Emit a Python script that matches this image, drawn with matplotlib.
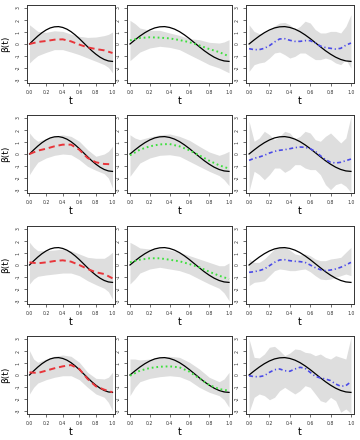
import matplotlib
matplotlib.use("Agg")
from matplotlib import pyplot as plt

t_true = [0, 0.05, 0.1, 0.15, 0.2, 0.25, 0.3, 0.35, 0.4, 0.45, 0.5,
          0.55, 0.6, 0.65, 0.7, 0.75, 0.8, 0.85, 0.9, 0.95, 1.0]
t_est = [0, 0.1, 0.2, 0.3, 0.4, 0.5, 0.6, 0.7, 0.8, 0.9, 1.0]
t_band = [0, 0.05, 0.1, 0.2, 0.3, 0.4, 0.5, 0.6, 0.7, 0.8, 0.9, 0.95, 1.0]
t_fine = t_true

# true coefficient function (same in every panel)
beta_true = [0, 0.34, 0.66, 0.94, 1.17, 1.34, 1.43, 1.45, 1.38, 1.24, 1.03,
             0.76, 0.45, 0.11, -0.23, -0.56, -0.85, -1.10, -1.29, -1.41, -1.45]

# column 1 (red dashed)
est_r1c1 = [0, 0.17, 0.25, 0.36, 0.39, 0.22, -0.05, -0.28, -0.42, -0.53, -0.75]
lo_r1c1 = [-1.58, -1.25, -0.97, -0.7, -0.47, -0.47, -0.67, -0.89, -1.17, -1.44, -1.72, -1.95, -2.4]
hi_r1c1 = [1.6, 1.33, 1.05, 0.97, 1.1, 1.05, 0.83, 0.64, 0.55, 0.58, 0.7, 0.8, 1.0]

est_r2c1 = [0, 0.28, 0.44, 0.64, 0.78, 0.78, 0.36, -0.33, -0.69, -0.83, -0.86]
lo_r2c1 = [-1.72, -1.17, -0.69, -0.33, -0.11, 0, -0.06, -0.47, -1.03, -1.36, -1.64, -2.0, -2.83]
hi_r2c1 = [1.75, 1.33, 1.06, 1.28, 1.47, 1.6, 1.47, 1.06, 0.36, -0.19, 0, 0.22, 0.64]

est_r3c1 = [0.22, 0.14, 0.22, 0.33, 0.39, 0.28, 0, -0.33, -0.61, -0.75, -1.11]
lo_r3c1 = [-1.58, -1.17, -0.94, -0.83, -0.75, -0.67, -0.67, -0.89, -1.31, -1.64, -1.94, -2.22, -2.83]
hi_r3c1 = [1.89, 1.47, 1.19, 1.19, 1.25, 1.33, 1.19, 0.92, 0.64, 0.56, 0.56, 0.78, 1.06]

est_r4c1 = [0.22, 0.17, 0.36, 0.56, 0.72, 0.83, 0.5, -0.33, -0.94, -1.22, -1.44]
lo_r4c1 = [-1.58, -1.03, -0.67, -0.39, -0.19, -0.06, -0.06, -0.39, -1.03, -1.58, -1.86, -2.28, -2.97]
hi_r4c1 = [2.03, 1.33, 1.06, 1.33, 1.56, 1.67, 1.56, 1.06, 0.22, -0.28, -0.33, -0.19, 0.22]

# column 2 (green dotted)
est_r1c2 = [0.3, 0.5, 0.56, 0.53, 0.47, 0.33, 0.15, -0.12, -0.42, -0.67, -1.03]
lo_r1c2 = [-1.39, -1.03, -0.67, -0.33, -0.19, -0.28, -0.47, -0.89, -1.3, -1.72, -2.0, -2.2, -2.4]
hi_r1c2 = [1.97, 1.7, 1.33, 1.14, 1.14, 0.92, 0.72, 0.44, 0.36, 0.14, 0.08, 0.17, 0.36]

est_r2c2 = [-0.11, 0.36, 0.64, 0.8, 0.83, 0.64, 0.31, -0.11, -0.56, -0.94, -1.22]
lo_r2c2 = [-1.86, -1.3, -0.75, -0.33, -0.11, -0.06, -0.19, -0.61, -1.03, -1.44, -1.8, -2.14, -2.64]
hi_r2c2 = [1.6, 1.33, 1.19, 1.42, 1.6, 1.67, 1.47, 1.14, 0.64, 0.17, -0.11, 0.03, 0.22]

est_r3c2 = [0.22, 0.44, 0.56, 0.56, 0.44, 0.31, 0.08, -0.19, -0.56, -0.89, -1.17]
lo_r3c2 = [-1.58, -1.17, -0.67, -0.33, -0.19, -0.33, -0.47, -0.75, -1.17, -1.58, -1.94, -2.33, -2.97]
hi_r3c2 = [1.89, 1.67, 1.42, 1.33, 1.33, 1.25, 1.06, 0.78, 0.5, 0.22, -0.06, -0.06, 0.17]

est_r4c2 = [-0.06, 0.36, 0.58, 0.69, 0.72, 0.64, 0.28, -0.28, -0.83, -1.17, -1.31]
lo_r4c2 = [-1.72, -1.03, -0.56, -0.28, -0.14, -0.06, -0.14, -0.47, -1.03, -1.44, -1.72, -2.06, -2.69]
hi_r4c2 = [1.33, 1.33, 1.25, 1.33, 1.47, 1.56, 1.47, 1.06, 0.5, -0.19, -0.56, -0.33, 0.22]

# column 3 (blue dash-dot), finer grid
est_r1c3 = [-0.39, -0.47, -0.47, -0.36, -0.14, 0.17, 0.42, 0.44, 0.31, 0.22, 0.22,
            0.28, 0.28, 0.08, -0.17, -0.3, -0.36, -0.42, -0.36, -0.1, 0.08]
lo_r1c3 = [-2.28, -1.72, -1.58, -1.5, -1.17, -0.75, -0.67, -0.89, -1.17, -1.03, -0.75,
           -0.75, -1.03, -1.3, -1.3, -1.17, -1.3, -1.58, -1.72, -1.3, -2.0]
hi_r1c3 = [1.6, 1.05, 0.86, 0.95, 1.14, 1.5, 1.75, 1.8, 1.6, 1.2, 1.47,
           1.9, 1.75, 1.2, 0.92, 0.92, 1.05, 1.05, 0.92, 1.47, 2.44]

est_r2c3 = [-0.53, -0.36, -0.25, -0.11, 0.08, 0.22, 0.31, 0.36, 0.44, 0.53, 0.58,
            0.56, 0.44, 0.22, -0.14, -0.47, -0.69, -0.75, -0.69, -0.56, -0.42]
lo_r2c3 = [-3.1, -1.44, -1.72, -2.14, -1.72, -1.17, -1.17, -1.53, -1.3, -0.89, -0.89,
           -1.17, -1.3, -1.3, -1.72, -2.55, -2.97, -2.55, -2.42, -2.69, -3.2]
hi_r2c3 = [2.72, 1.06, 1.33, 1.89, 1.61, 1.19, 1.47, 1.89, 1.75, 1.25, 1.47,
           1.89, 1.75, 1.19, 1.06, 1.47, 1.75, 1.33, 0.92, 1.33, 3.14]

est_r3c3 = [-0.61, -0.56, -0.47, -0.33, -0.06, 0.22, 0.42, 0.44, 0.36, 0.31, 0.28,
            0.22, 0, -0.22, -0.39, -0.47, -0.42, -0.33, -0.19, 0, 0.22]
lo_r3c3 = [-1.72, -1.44, -1.39, -1.31, -0.89, -0.47, -0.33, -0.39, -0.47, -0.47, -0.39,
           -0.33, -0.56, -0.89, -1.17, -1.22, -1.17, -1.03, -0.89, -0.75, -0.89]
hi_r3c3 = [0.5, 0.22, 0.22, 0.5, 0.92, 1.33, 1.47, 1.47, 1.25, 0.92, 0.83,
           0.92, 0.78, 0.5, 0.36, 0.36, 0.5, 0.56, 0.64, 1.06, 1.47]

est_r4c3 = [-0.06, -0.14, -0.14, -0.06, 0.22, 0.44, 0.5, 0.36, 0.31, 0.5, 0.64,
            0.56, 0.22, -0.11, -0.25, -0.33, -0.47, -0.75, -0.94, -0.89, -0.56]
lo_r4c3 = [-3.1, -1.86, -1.58, -1.72, -2.06, -1.86, -1.31, -1.03, -1.31, -1.58, -1.31,
           -0.89, -1.03, -1.58, -2.14, -2.28, -1.86, -2.14, -3.1, -2.83, -3.2]
hi_r4c3 = [3.0, 1.47, 1.42, 1.75, 2.31, 2.39, 2.03, 1.61, 1.83, 2.17, 2.11,
           1.89, 1.83, 1.61, 1.75, 1.47, 1.33, 1.61, 1.47, 1.33, 3.14]

x_ticks = [0.0, 0.2, 0.4, 0.6, 0.8, 1.0]
y_ticks = [-3, -2, -1, 0, 1, 2, 3]

panels = [
    [(est_r1c1, lo_r1c1, hi_r1c1), (est_r1c2, lo_r1c2, hi_r1c2), (est_r1c3, lo_r1c3, hi_r1c3)],
    [(est_r2c1, lo_r2c1, hi_r2c1), (est_r2c2, lo_r2c2, hi_r2c2), (est_r2c3, lo_r2c3, hi_r2c3)],
    [(est_r3c1, lo_r3c1, hi_r3c1), (est_r3c2, lo_r3c2, hi_r3c2), (est_r3c3, lo_r3c3, hi_r3c3)],
    [(est_r4c1, lo_r4c1, hi_r4c1), (est_r4c2, lo_r4c2, hi_r4c2), (est_r4c3, lo_r4c3, hi_r4c3)],
]

# line style for each column
col_styles = [
    dict(color="#e8353a", lw=1.4, dashes=(3.2, 2.0)),
    dict(color="#3ee03e", lw=1.4, dashes=(0.9, 1.5)),
    dict(color="#4a4ae8", lw=1.2, dashes=(2.4, 1.6, 0.7, 1.6)),
]

W, H = 360, 440
col_px = [(27, 115), (127, 232), (246, 354)]
row_tops = [5, 115, 226, 336]
panel_h = 78

fig = plt.figure(figsize=(W / 100, H / 100), dpi=100)

for r in range(4):
    for c in range(3):
        x0, x1 = col_px[c]
        top = row_tops[r]
        ax = fig.add_axes([x0 / W, 1 - (top + panel_h) / H, (x1 - x0) / W, panel_h / H])
        est, lo, hi = panels[r][c]
        tb = t_fine if c == 2 else t_band
        te = t_fine if c == 2 else t_est
        ax.fill_between(tb, lo, hi, color="#dedede", lw=0)
        ax.plot(t_true, beta_true, color="black", lw=0.9)
        ax.plot(te, est, **col_styles[c])

        ax.set_xlim(-0.03, 1.03)
        ax.set_ylim(-3.25, 3.25)
        ax.set_xticks(x_ticks)
        ax.set_xticklabels([f"{v:.1f}" for v in x_ticks])
        ax.set_yticks(y_ticks)
        ax.set_yticklabels([str(v) for v in y_ticks], rotation=90, va="center")
        ax.tick_params(labelsize=3.3, length=2.2, width=0.5, pad=2.5, colors="#333333")
        for s in ax.spines.values():
            s.set_linewidth(0.7)
            s.set_color("#333333")
        ax.set_xlabel("t", fontsize=7, labelpad=1)
        if c == 0:
            # y label sits close to the left edge, as in the reference
            fig.text(6 / W, 1 - (top + panel_h / 2) / H, "β(t)", fontsize=6.5,
                     rotation=90, ha="center", va="center")

fig.savefig("out.png", dpi=100)
